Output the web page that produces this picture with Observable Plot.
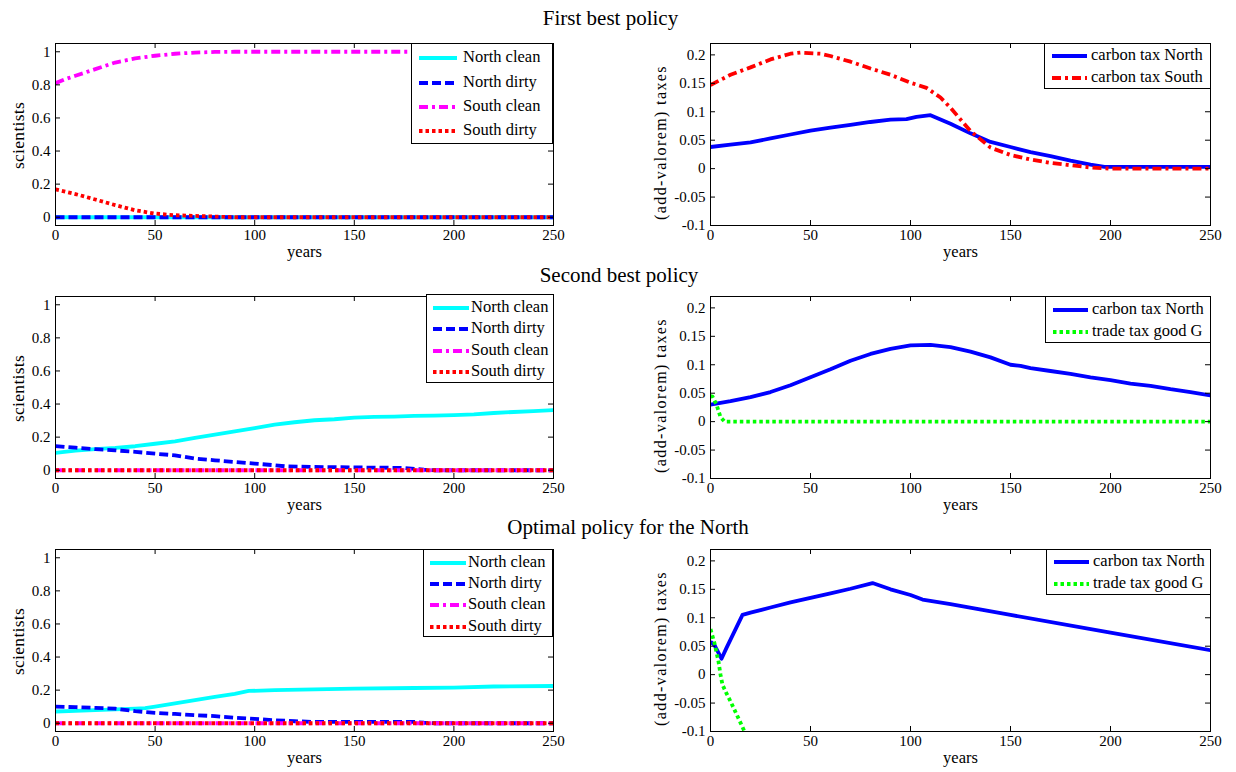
<!DOCTYPE html>
<html>
<head>
<meta charset="utf-8">
<script src="https://cdn.jsdelivr.net/npm/d3@7"></script>
<script src="https://cdn.jsdelivr.net/npm/@observablehq/plot@0.6"></script>
<style>
  html, body { margin: 0; padding: 0; background: #fff; }
  #page { position: relative; width: 1236px; height: 772px; overflow: hidden; background: #fff;
          font-family: "Liberation Serif", "Times New Roman", serif; color: #000; }
  .title { position: absolute; width: 1236px; text-align: center; font-size: 21px; line-height: 24px; }
  .panel { position: absolute; }
  .legend { position: absolute; box-sizing: border-box; border: 1px solid #000; background: #fff; font-size: 16.5px; }
  .legend .row { position: absolute; left: 0; height: 20px; line-height: 20px; white-space: nowrap; }
  .legend svg { position: absolute; top: 0; }
  .legend span { position: absolute; top: 0; }
</style>
</head>
<body>
<div id="page"></div>
<script>
// ---------------- data ----------------
const xTicks = [0, 50, 100, 150, 200, 250];
const sciTicks = [0, 0.2, 0.4, 0.6, 0.8, 1];
const taxTicks = [-0.1, -0.05, 0, 0.05, 0.1, 0.15, 0.2];
const panelTitles = ["First best policy", "Second best policy", "Optimal policy for the North"];
const sciSeriesNames = ["North clean", "North dirty", "South clean", "South dirty"];

// First best: scientists
const fbNorthCleanYears = [0, 250];
const fbNorthCleanValues = [0, 0];
const fbNorthDirtyYears = [0, 250];
const fbNorthDirtyValues = [0, 0];
const fbSouthCleanYears = [0, 5, 10, 15, 20, 25, 30, 40, 50, 60, 70, 80, 90, 250];
const fbSouthCleanValues = [0.81, 0.835, 0.855, 0.875, 0.895, 0.915, 0.935, 0.96, 0.976, 0.988, 0.995, 0.999, 1, 1];
const fbSouthDirtyYears = [0, 10, 20, 30, 40, 50, 60, 70, 80, 90, 250];
const fbSouthDirtyValues = [0.168, 0.14, 0.107, 0.073, 0.042, 0.022, 0.012, 0.008, 0.004, 0, 0];

// First best: taxes
const fbTaxNorthYears = [0, 10, 20, 30, 40, 50, 60, 70, 80, 90, 98, 103, 110, 120, 130, 140, 150, 160, 170, 180, 190, 197, 250];
const fbTaxNorthValues = [0.038, 0.042, 0.046, 0.053, 0.06, 0.067, 0.072, 0.077, 0.082, 0.086, 0.087, 0.091, 0.094, 0.079, 0.062, 0.047, 0.038, 0.029, 0.022, 0.014, 0.007, 0.003, 0.003];
const fbTaxSouthYears = [0, 10, 20, 30, 40, 45, 55, 60, 70, 80, 90, 100, 108, 115, 120, 130, 140, 150, 160, 170, 180, 190, 200, 250];
const fbTaxSouthValues = [0.147, 0.165, 0.178, 0.192, 0.202, 0.204, 0.202, 0.198, 0.188, 0.176, 0.165, 0.151, 0.142, 0.125, 0.107, 0.066, 0.037, 0.024, 0.016, 0.01, 0.006, 0.002, 0, 0];

// Second best: scientists
const sbNorthCleanYears = [0, 10, 20, 30, 40, 50, 60, 70, 80, 90, 100, 110, 120, 130, 140, 150, 160, 170, 180, 190, 200, 210, 220, 230, 240, 250];
const sbNorthCleanValues = [0.105, 0.118, 0.128, 0.135, 0.145, 0.16, 0.175, 0.195, 0.215, 0.235, 0.255, 0.275, 0.29, 0.302, 0.308, 0.318, 0.322, 0.324, 0.328, 0.33, 0.333, 0.338, 0.346, 0.352, 0.357, 0.364];
const sbNorthDirtyYears = [0, 10, 20, 30, 40, 50, 60, 70, 80, 90, 100, 110, 115, 130, 150, 175, 185, 190, 250];
const sbNorthDirtyValues = [0.146, 0.136, 0.127, 0.12, 0.111, 0.1, 0.09, 0.07, 0.06, 0.05, 0.04, 0.03, 0.024, 0.02, 0.017, 0.014, 0.003, 0, 0];
const sbSouthCleanYears = [0, 250];
const sbSouthCleanValues = [0, 0];
const sbSouthDirtyYears = [0, 250];
const sbSouthDirtyValues = [0, 0];

// Second best: taxes
const sbTaxNorthYears = [0, 10, 20, 30, 40, 50, 60, 70, 80, 90, 100, 110, 120, 130, 140, 150, 155, 160, 170, 180, 190, 200, 210, 220, 230, 240, 250];
const sbTaxNorthValues = [0.03, 0.036, 0.043, 0.052, 0.064, 0.078, 0.092, 0.107, 0.119, 0.128, 0.134, 0.135, 0.131, 0.123, 0.113, 0.1, 0.098, 0.094, 0.089, 0.084, 0.078, 0.073, 0.067, 0.063, 0.057, 0.052, 0.046];
const sbTradeGYears = [0, 1, 3, 5, 7, 250];
const sbTradeGValues = [0.045, 0.044, 0.03, 0.008, 0, 0];

// Optimal for the North: scientists
const onNorthCleanYears = [0, 10, 20, 30, 40, 45, 50, 60, 70, 80, 90, 97, 110, 130, 150, 180, 200, 220, 250];
const onNorthCleanValues = [0.071, 0.075, 0.079, 0.084, 0.088, 0.091, 0.1, 0.12, 0.14, 0.16, 0.178, 0.195, 0.2, 0.205, 0.209, 0.213, 0.215, 0.222, 0.225];
const onNorthDirtyYears = [0, 10, 20, 30, 40, 50, 60, 70, 80, 90, 100, 110, 120, 130, 180, 185, 190, 250];
const onNorthDirtyValues = [0.1, 0.097, 0.093, 0.088, 0.073, 0.063, 0.056, 0.049, 0.043, 0.033, 0.026, 0.018, 0.012, 0.008, 0.008, 0.003, 0, 0];
const onSouthCleanYears = [0, 250];
const onSouthCleanValues = [0, 0];
const onSouthDirtyYears = [0, 250];
const onSouthDirtyValues = [0, 0];

// Optimal for the North: taxes
const onTaxNorthYears = [0, 2, 5.5, 8, 12, 16, 20, 30, 40, 50, 60, 70, 81, 90, 100, 106, 120, 150, 200, 250];
const onTaxNorthValues = [0.058, 0.052, 0.028, 0.047, 0.076, 0.105, 0.109, 0.118, 0.127, 0.135, 0.143, 0.151, 0.161, 0.15, 0.14, 0.132, 0.124, 0.105, 0.074, 0.043];
const onTradeGYears = [0, 2, 4, 5, 6, 8, 10, 12, 14, 17, 19];
const onTradeGValues = [0.08, 0.055, 0.023, 0, -0.018, -0.033, -0.047, -0.062, -0.077, -0.1, -0.115];

// ---------------- styles ----------------
const lineStyles = {
  "North clean":      {stroke: "#00ffff", dash: null},
  "North dirty":      {stroke: "#0000ff", dash: "9,4"},
  "South clean":      {stroke: "#ff00ff", dash: "9,4,3,4"},
  "South dirty":      {stroke: "#ff0000", dash: "3.5,3"},
  "carbon tax North": {stroke: "#0000ff", dash: null},
  "carbon tax South": {stroke: "#ff0000", dash: "9,4,3,4"},
  "trade tax good G": {stroke: "#00ff00", dash: "3.5,3"}
};
const LW = 3.8;

function series(name, years, values) {
  return {name, data: years.map((x, i) => ({x, y: values[i]}))};
}

const page = document.getElementById("page");
const FH = 182, MT = 12, MB = 46;
const fmt = d => String(d);

function panel(cfg) {
  const {left, frameTop, width, ml, mr, yDomain, yTicks, yLabel, yLabelDx, yLabelDy, yLabelSize, yLabelSpacing, list} = cfg;
  const fw = width - ml - mr;
  const marks = [];
  for (const s of list) {
    const st = lineStyles[s.name];
    marks.push(Plot.line(s.data, {x: "x", y: "y", stroke: st.stroke, strokeWidth: LW,
      strokeDasharray: st.dash, strokeLinecap: "butt", strokeLinejoin: "round", clip: true}));
  }
  marks.push(
    Plot.tickX(xTicks, {x: d => d, insetTop: FH - 5, stroke: "#000", strokeWidth: 1}),
    Plot.tickX(xTicks, {x: d => d, insetBottom: FH - 5, stroke: "#000", strokeWidth: 1}),
    Plot.tickY(yTicks, {y: d => d, insetRight: fw - 5, stroke: "#000", strokeWidth: 1}),
    Plot.tickY(yTicks, {y: d => d, insetLeft: fw - 5, stroke: "#000", strokeWidth: 1}),
    Plot.frame({stroke: "#000", strokeWidth: 1}),
    Plot.axisX(xTicks, {tickSize: 0, tickPadding: 4, tickFormat: fmt, label: null, fontSize: 15}),
    Plot.axisY(yTicks, {tickSize: 0, tickPadding: 5, tickFormat: fmt, label: null, fontSize: 15}),
    Plot.text(["years"], {text: d => d, frameAnchor: "bottom", dy: 26, textAnchor: "middle", lineAnchor: "middle", fontSize: 16.5, fill: "#000"}),
    Plot.text([yLabel], {text: d => d, frameAnchor: "left", rotate: -90, dx: yLabelDx, dy: yLabelDy,
      textAnchor: "middle", lineAnchor: "middle", fontSize: yLabelSize, fill: "#000"})
  );
  const svg = Plot.plot({
    width, height: MT + FH + MB,
    marginLeft: ml, marginRight: mr, marginTop: MT, marginBottom: MB,
    x: {domain: [0, 250], label: null},
    y: {domain: yDomain, label: null},
    style: {fontFamily: '"Liberation Serif", "Times New Roman", serif', fontSize: "15px",
            color: "#000", background: "transparent", overflow: "visible"},
    marks
  });
  if (yLabelSpacing) {
    svg.querySelectorAll("text").forEach(t => {
      if (t.textContent === yLabel) t.style.letterSpacing = yLabelSpacing;
    });
  }
  const wrap = document.createElement("div");
  wrap.className = "panel";
  wrap.style.left = left + "px";
  wrap.style.top = (frameTop - MT) + "px";
  wrap.appendChild(svg);
  page.appendChild(wrap);
}

function legend(cfg) {
  const {left, top, width, height, rows, names, sx0, sx1, tx} = cfg;
  const box = document.createElement("div");
  box.className = "legend";
  Object.assign(box.style, {left: left + "px", top: top + "px", width: width + "px", height: height + "px"});
  names.forEach((name, i) => {
    const st = lineStyles[name];
    const row = document.createElement("div");
    row.className = "row";
    row.style.top = (rows[i] - top - 11) + "px";
    row.style.width = width + "px";
    const ns = "http://www.w3.org/2000/svg";
    const svg = document.createElementNS(ns, "svg");
    svg.setAttribute("width", sx1 + 2);
    svg.setAttribute("height", 20);
    svg.style.left = "0px";
    svg.style.top = "1px";
    const ln = document.createElementNS(ns, "line");
    ln.setAttribute("x1", sx0); ln.setAttribute("x2", sx1);
    ln.setAttribute("y1", 10); ln.setAttribute("y2", 10);
    ln.setAttribute("stroke", st.stroke);
    ln.setAttribute("stroke-width", LW);
    if (st.dash) ln.setAttribute("stroke-dasharray", st.dash);
    svg.appendChild(ln);
    const sp = document.createElement("span");
    sp.textContent = name;
    sp.style.left = tx + "px";
    row.appendChild(svg);
    row.appendChild(sp);
    box.appendChild(row);
  });
  page.appendChild(box);
}

// titles (top, centre x)
[[6, 610.5, 0], [263, 619, 1], [515, 628, 2]].forEach(([top, cx, i]) => {
  const t = document.createElement("div");
  t.className = "title";
  t.style.top = top + "px";
  t.style.left = (cx - 618) + "px";
  t.textContent = panelTitles[i];
  page.appendChild(t);
});

const rowsTop = [42.5, 296, 549];
const leftCfg = {left: 0, width: 620, ml: 55, mr: 67, yDomain: [-0.05, 1.05], yTicks: sciTicks,
                 yLabel: "scientists", yLabelDx: -37, yLabelDy: 1, yLabelSize: 17.5, yLabelSpacing: "0.3px"};
const rightCfg = {left: 620, width: 616, ml: 90, mr: 26, yDomain: [-0.1, 0.22], yTicks: taxTicks,
                  yLabel: "(add-valorem) taxes", yLabelDx: -50, yLabelDy: 8, yLabelSize: 16, yLabelSpacing: "1.4px"};

// Row 1
panel({...leftCfg, frameTop: rowsTop[0], list: [
  series("North clean", fbNorthCleanYears, fbNorthCleanValues),
  series("North dirty", fbNorthDirtyYears, fbNorthDirtyValues),
  series("South clean", fbSouthCleanYears, fbSouthCleanValues),
  series("South dirty", fbSouthDirtyYears, fbSouthDirtyValues)
]});
panel({...rightCfg, frameTop: rowsTop[0], list: [
  series("carbon tax North", fbTaxNorthYears, fbTaxNorthValues),
  series("carbon tax South", fbTaxSouthYears, fbTaxSouthValues)
]});
// Row 2
panel({...leftCfg, frameTop: rowsTop[1], list: [
  series("North clean", sbNorthCleanYears, sbNorthCleanValues),
  series("North dirty", sbNorthDirtyYears, sbNorthDirtyValues),
  series("South clean", sbSouthCleanYears, sbSouthCleanValues),
  series("South dirty", sbSouthDirtyYears, sbSouthDirtyValues)
]});
panel({...rightCfg, frameTop: rowsTop[1], list: [
  series("carbon tax North", sbTaxNorthYears, sbTaxNorthValues),
  series("trade tax good G", sbTradeGYears, sbTradeGValues)
]});
// Row 3
panel({...leftCfg, frameTop: rowsTop[2], list: [
  series("North clean", onNorthCleanYears, onNorthCleanValues),
  series("North dirty", onNorthDirtyYears, onNorthDirtyValues),
  series("South clean", onSouthCleanYears, onSouthCleanValues),
  series("South dirty", onSouthDirtyYears, onSouthDirtyValues)
]});
panel({...rightCfg, frameTop: rowsTop[2], list: [
  series("carbon tax North", onTaxNorthYears, onTaxNorthValues),
  series("trade tax good G", onTradeGYears, onTradeGValues)
]});

// legends
legend({left: 411, top: 43, width: 142, height: 101, rows: [57, 82, 106, 130], names: sciSeriesNames, sx0: 7, sx1: 45, tx: 51});
legend({left: 1044, top: 43, width: 167, height: 46, rows: [55, 77], names: ["carbon tax North", "carbon tax South"], sx0: 7, sx1: 42, tx: 46});
legend({left: 426, top: 294, width: 128, height: 89, rows: [307, 328, 350, 371], names: sciSeriesNames, sx0: 6, sx1: 42, tx: 44});
legend({left: 1045, top: 296, width: 166, height: 47, rows: [309, 331], names: ["carbon tax North", "trade tax good G"], sx0: 7, sx1: 42, tx: 46});
legend({left: 423, top: 549, width: 130, height: 88, rows: [562, 583, 604, 626], names: sciSeriesNames, sx0: 6, sx1: 42, tx: 44});
legend({left: 1046, top: 549, width: 165, height: 46, rows: [561, 583], names: ["carbon tax North", "trade tax good G"], sx0: 7, sx1: 42, tx: 46});
</script>
</body>
</html>
